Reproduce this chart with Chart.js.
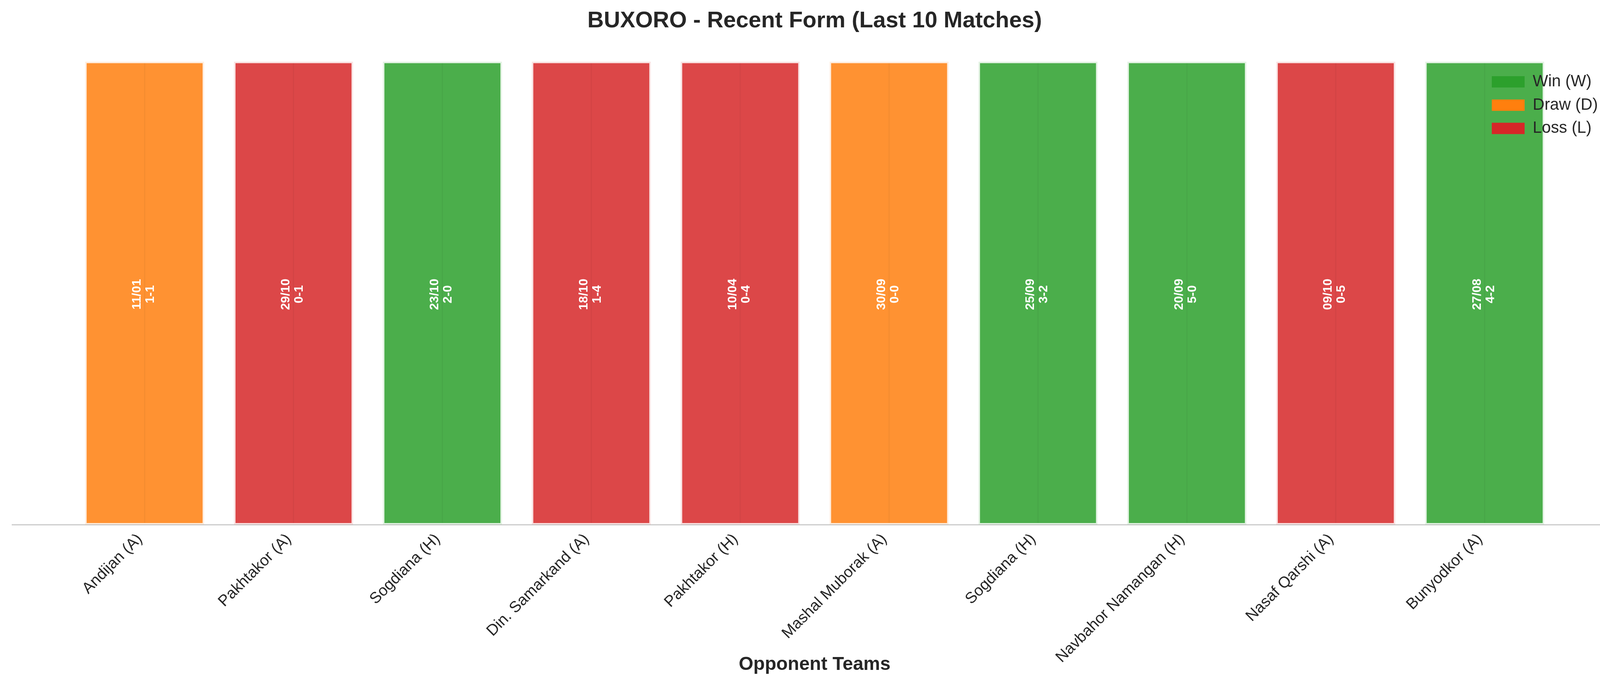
<!DOCTYPE html>
<html>
<head>
<meta charset="utf-8">
<script src="https://cdn.jsdelivr.net/npm/chart.js@4.4.1/dist/chart.umd.min.js"></script>
<style>
  html, body { margin: 0; padding: 0; background: #fff; overflow: hidden; }
  #wrap { width: 4170px; height: 1769px; }
</style>
</head>
<body>
<div id="wrap"><canvas id="formChart"></canvas></div>
<script>
// match data, most recent first
const teams = ['Andijan (A)', 'Pakhtakor (A)', 'Sogdiana (H)', 'Din. Samarkand (A)', 'Pakhtakor (H)',
               'Mashal Muborak (A)', 'Sogdiana (H)', 'Navbahor Namangan (H)', 'Nasaf Qarshi (A)', 'Bunyodkor (A)'];
const results = ['D', 'L', 'W', 'L', 'L', 'D', 'W', 'W', 'L', 'W'];
const dates = ['11/01', '29/10', '23/10', '18/10', '10/04', '30/09', '25/09', '20/09', '09/10', '27/08'];
const scores = ['1-1', '0-1', '2-0', '1-4', '0-4', '0-0', '3-2', '5-0', '0-5', '4-2'];
const heights = [1, 1, 1, 1, 1, 1, 1, 1, 1, 1];

const kinds = [
  { code: 'W', label: 'Win (W)',  rgb: '44,160,44' },
  { code: 'D', label: 'Draw (D)', rgb: '255,127,14' },
  { code: 'L', label: 'Loss (L)', rgb: '214,39,40' }
];

const FONT = "'Liberation Sans', Arial, Helvetica, sans-serif";
const TEXT = '#262626';

const datasets = kinds.map(k => ({
  label: k.label,
  data: results.map((r, i) => r === k.code ? { x: i, y: heights[i] } : null).filter(p => p),
  backgroundColor: 'rgba(' + k.rgb + ',0.85)',
  borderColor: 'rgba(' + k.rgb + ',0.13)',
  borderWidth: 4,
  borderSkipped: false,
  grouped: false,
  barPercentage: 0.8,
  categoryPercentage: 1.0
}));

// date + score written up the middle of each bar
const barText = {
  id: 'barText',
  afterDatasetsDraw(chart) {
    const ctx = chart.ctx;
    chart.data.datasets.forEach((ds, d) => {
      const meta = chart.getDatasetMeta(d);
      meta.data.forEach((bar, j) => {
        const idx = ds.data[j].x;
        ctx.save();
        ctx.strokeStyle = 'rgba(0,0,0,0.045)';
        ctx.lineWidth = 3;
        ctx.beginPath();
        ctx.moveTo(bar.x, bar.y + 4);
        ctx.lineTo(bar.x, bar.base - 4);
        ctx.stroke();
        ctx.translate(bar.x - 2, (bar.y + bar.base) / 2 + 3);
        ctx.rotate(-Math.PI / 2);
        ctx.fillStyle = '#ffffff';
        ctx.font = 'bold 32px ' + FONT;
        ctx.textAlign = 'center';
        ctx.textBaseline = 'middle';
        ctx.fillText(dates[idx], 0, -17);
        ctx.fillText(scores[idx], 0, 17);
        ctx.restore();
      });
    });
  }
};

// legend sits over the bars in the upper right corner of the plot
const legendCorner = {
  id: 'legendCorner',
  beforeLayout(chart) {
    const lg = chart.legend;
    if (!lg) return;
    lg._layers = () => [{ z: 1, draw: (area) => lg.draw(area) }];
  },
  afterLayout(chart) {
    const lg = chart.legend;
    if (!lg) return;
    lg.left = chart.chartArea.right - 339;
    lg.top = chart.chartArea.top + 72;
  }
};

new Chart(document.getElementById('formChart'), {
  type: 'bar',
  data: { datasets: datasets },
  plugins: [barText, legendCorner],
  options: {
    responsive: true,
    maintainAspectRatio: false,
    devicePixelRatio: 1,
    animation: false,
    layout: { padding: { left: 31, right: 30, top: 0, bottom: 0 } },
    plugins: {
      title: {
        display: true,
        text: 'BUXORO - Recent Form (Last 10 Matches)',
        color: TEXT,
        font: { family: FONT, size: 58, weight: 'bold', lineHeight: 1.2 },
        padding: { top: 19, bottom: 10 }
      },
      legend: {
        position: 'chartArea',
        align: 'start',
        labels: {
          color: TEXT,
          font: { family: FONT, size: 41.7 },
          boxWidth: 84,
          boxHeight: 29,
          padding: 18,
          generateLabels(chart) {
            return chart.data.datasets.map((ds, i) => ({
              text: ds.label,
              fillStyle: 'rgb(' + kinds[i].rgb + ')',
              strokeStyle: 'rgba(0,0,0,0)',
              lineWidth: 0,
              fontColor: TEXT,
              hidden: !chart.isDatasetVisible(i),
              datasetIndex: i
            }));
          }
        }
      },
      tooltip: { enabled: false }
    },
    scales: {
      x: {
        type: 'linear',
        min: -0.89,
        max: 9.89,
        offset: false,
        grid: { display: false, drawTicks: false },
        border: { display: true, color: '#cccccc', width: 3 },
        ticks: {
          stepSize: 1,
          includeBounds: false,
          autoSkip: false,
          minRotation: 45,
          maxRotation: 45,
          padding: 14,
          labelOffset: -12,
          color: TEXT,
          font: { family: FONT, size: 40 },
          callback: v => (Number.isInteger(v) && teams[v] !== undefined) ? teams[v] : ''
        },
        title: {
          display: true,
          text: 'Opponent Teams',
          color: TEXT,
          font: { family: FONT, size: 48, weight: 'bold', lineHeight: 1.2 },
          padding: { top: 0, bottom: 38 }
        },
        afterFit(scale) { scale.height = 426; }
      },
      y: {
        display: false,
        min: 0,
        max: 1.05
      }
    }
  }
});
</script>
</body>
</html>
